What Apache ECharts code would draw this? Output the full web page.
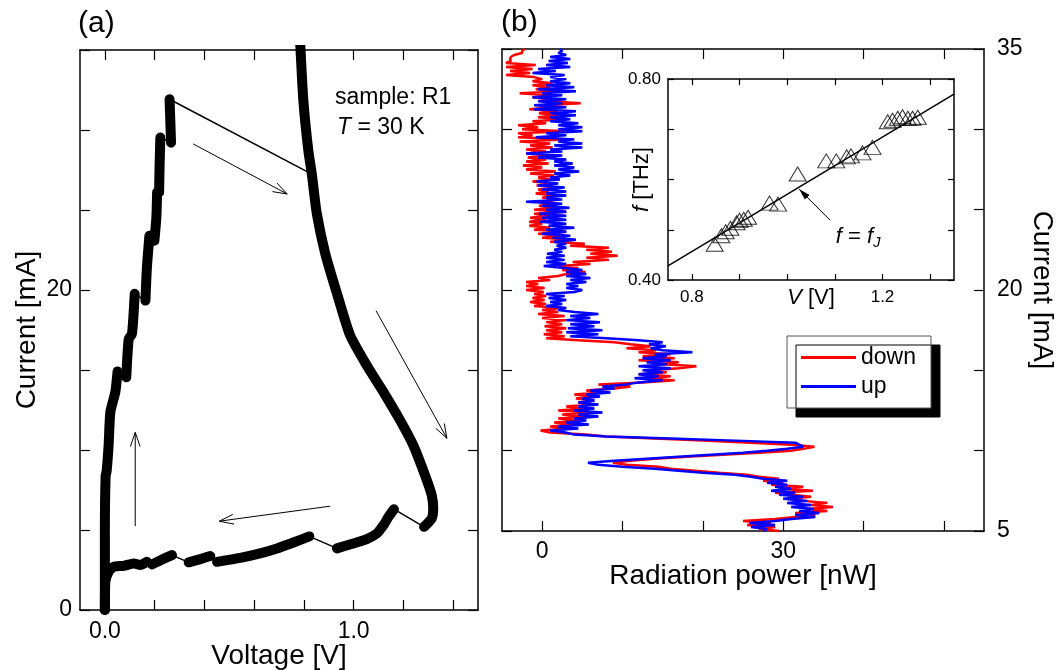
<!DOCTYPE html>
<html><head><meta charset="utf-8">
<script src="https://cdn.jsdelivr.net/npm/echarts@6/dist/echarts.min.js"></script>
<style>html,body{margin:0;padding:0;background:#fff}#c{width:1063px;height:670px}</style>
</head><body><div id="c"></div>
<script>
const FONT = '"Liberation Sans", Arial, Helvetica, sans-serif';

// ---------- Panel (a): I-V characteristic ----------
const aVoltTicks = [0, 0.2, 0.4, 0.6, 0.8, 1.0, 1.2, 1.4];
const aVoltLabels = [0, 1];
const aCurrTicks = [0, 5, 10, 15, 20, 25, 30, 35];
const aCurrLabels = [0, 20];

// thick measured branches [V, mA]
const bigBranch = [[0.785,35.5],[0.798,31.82],[0.818,28.70],[0.832,27.24],[0.852,24.77],[0.886,22.27],[0.933,19.78],[0.986,17.16],[1.053,15.28],[1.120,13.62],[1.187,11.85],[1.240,10.29],[1.287,8.42],[1.314,7.17],[1.320,6.34],[1.314,5.72],[1.283,5.20]];
const lowA = [[1.162,6.30],[1.140,5.82],[1.120,5.30],[1.093,4.78],[1.053,4.43],[0.999,4.16],[0.933,3.85]];
const lowB = [[0.822,4.60],[0.758,4.22],[0.692,3.85],[0.624,3.54],[0.544,3.26],[0.451,3.01]];
const lowC = [[0.424,3.37],[0.384,3.18],[0.337,2.98]];
const lowD = [[0.270,3.43],[0.230,3.16],[0.190,2.85]];
const lowE = [[0.169,3.01],[0.143,2.81],[0.116,2.91],[0.076,2.76],[0.035,2.70],[0.015,2.39],[0.002,1.77],[0.0,0.0]];
const step0 = [[0.0,0.0],[0.0,5.0],[0.003,8.4],[0.007,8.66],[0.015,10.29],[0.022,12.37],[0.042,13.62],[0.051,14.91]];
const step1 = [[0.086,14.55],[0.096,16.95],[0.109,17.26],[0.120,19.76]];
const step2 = [[0.163,19.34],[0.169,21.4],[0.179,23.39]];
const step3 = [[0.199,23.08],[0.207,24.53],[0.210,26.1]];
const step4 = [[0.218,26.1],[0.220,27.8],[0.223,29.53]];
const step5 = [[0.266,29.21],[0.263,30.6],[0.260,31.92]];
// thin connecting jumps
const jumps = [
  [[0.260,31.92],[0.832,27.24]],
  [[1.283,5.20],[1.162,6.30]],
  [[0.933,3.85],[0.822,4.60]],
  [[0.337,2.98],[0.270,3.43]],
  [[0.190,2.85],[0.169,3.01]],
  [[0.451,3.01],[0.424,3.37]],
  [[0.051,14.91],[0.086,14.55]],
  [[0.120,19.76],[0.163,19.34]],
  [[0.179,23.39],[0.199,23.08]],
  [[0.210,26.1],[0.218,26.1]],
  [[0.223,29.53],[0.266,29.21]]
];
// sweep direction arrows [V1, I1, V2, I2, filled]
const aArrows = [[0.355,29.13,0.733,26.0,0],[1.090,18.71,1.375,10.73,0],[0.906,6.49,0.460,5.55,0],[0.122,5.24,0.122,11.1,0]];

// ---------- Panel (b): radiation power vs current ----------
const bPowerTicks = [0, 10, 20, 30, 40, 50];
const bPowerLabels = [0, 30];
const bCurrTicks = [5, 10, 15, 20, 25, 30, 35];
const bCurrLabels = [5, 20, 35];
const currents = [
5,5.125,5.25,5.375,5.5,5.625,5.75,5.875, 6,6.125,6.25,6.375,6.5,6.625,6.75,6.875,
7,7.125,7.25,7.375,7.5,7.625,7.75,7.875, 8,8.125,8.25,8.375,8.5,8.625,8.75,8.875,
9,9.125,9.25,9.375,9.5,9.625,9.75,9.875, 10,10.125,10.25,10.375,10.5,10.625,10.75,10.875,
11,11.125,11.25,11.375,11.5,11.625,11.75,11.875, 12,12.125,12.25,12.375,12.5,12.625,12.75,12.875,
13,13.125,13.25,13.375,13.5,13.625,13.75,13.875, 14,14.125,14.25,14.375,14.5,14.625,14.75,14.875,
15,15.125,15.25,15.375,15.5,15.625,15.75,15.875, 16,16.125,16.25,16.375,16.5,16.625,16.75,16.875,
17,17.125,17.25,17.375,17.5,17.625,17.75,17.875, 18,18.125,18.25,18.375,18.5,18.625,18.75,18.875,
19,19.125,19.25,19.375,19.5,19.625,19.75,19.875, 20,20.125,20.25,20.375,20.5,20.625,20.75,20.875,
21,21.125,21.25,21.375,21.5,21.625,21.75,21.875, 22,22.125,22.25,22.375,22.5,22.625,22.75,22.875,
23,23.125,23.25,23.375,23.5,23.625,23.75,23.875, 24,24.125,24.25,24.375,24.5,24.625,24.75,24.875,
25,25.125,25.25,25.375,25.5,25.625,25.75,25.875, 26,26.125,26.25,26.375,26.5,26.625,26.75,26.875,
27,27.125,27.25,27.375,27.5,27.625,27.75,27.875, 28,28.125,28.25,28.375,28.5,28.625,28.75,28.875,
29,29.125,29.25,29.375,29.5,29.625,29.75,29.875, 30,30.125,30.25,30.375,30.5,30.625,30.75,30.875,
31,31.125,31.25,31.375,31.5,31.625,31.75,31.875, 32,32.125,32.25,32.375,32.5,32.625,32.75,32.875,
33,33.125,33.25,33.375,33.5,33.625,33.75,33.875, 34,34.125,34.25,34.375,34.5,34.625,34.75,34.875,
35];
const powerDown = [
29.5,27.0,29.0,25.5,28.5,25.0,29.0,31.5, 34.0,31.5,35.5,33.0,36.2,33.5,35.5,32.5,
30.5,33.5,31.0,29.0,33.7,30.0,32.5,28.5, 30.0,27.5,29.5,27.0,25.5,22.0,19.0,16.0,
14.5,10.5,8.8,11.0,14.0,18.0,22.5,27.0, 31.0,32.5,33.9,31.0,26.0,20.0,14.0,8.0,
5.5,1.0,-0.2,3.0,1.0,4.0,1.5,5.0, 2.0,5.5,2.5,6.0,2.0,5.0,3.0,6.0,
4.5,6.5,4.2,6.0,4.0,7.0,5.5,9.0, 11.0,7.0,12.5,16.5,13.0,16.0,12.0,15.5,
13.5,17.0,19.2,15.0,17.0,12.0,16.5,12.5, 16.0,12.0,14.2,10.5,13.5,11.0,9.0,4.5,
0.5,2.8,0.2,2.5,0.5,3.0,0.3,2.5, 0.5,3.0,0.0,2.8,-0.5,2.0,0.0,2.5,
-1.0,0.5,-1.5,0.3,-1.2,0.5,-1.0,0.2, -2.0,0.3,-2.0,-0.5,-2.0,1.0,-0.5,2.0,
3.0,5.4,2.5,4.5,2.0,6.0,3.8,8.3, 5.5,9.4,6.0,8.7,5.5,8.3,3.5,5.3,
1.0,4.0,0.0,2.5,-0.5,3.0,-1.0,1.0, -1.6,0.0,-1.6,0.5,-1.5,1.0,-1.0,3.0,
-1.0,1.5,-0.4,2.0,0.0,2.0,0.0,1.5, -0.8,0.8,-0.5,2.0,-0.7,1.2,-1.2,1.0,
-0.5,1.5,-1.5,1.7,-2.0,0.0,-2.4,0.8, -2.0,0.5,-1.8,0.8,-2.0,0.5,-2.0,1.3,
-1.5,1.0,-2.8,3.4,-3.0,-1.2,-3.0,2.8, -2.5,-0.5,-3.0,0.5,-1.2,3.0,-0.5,2.0,
-0.4,2.0,-1.6,1.3,0.0,4.8,0.5,0.8, -1.2,0.8,-2.8,3.0,-0.8,1.0,-1.2,1.3,
-1.2,0.0,-1.0,-4.5,-1.5,-4.0,-1.2,-4.5, -0.8,-4.5,-3.9,-4.0,-3.9,-3.5,-2.5,-2.5,
-2.2];
const powerUp = [
27.5,28.0,26.0,29.0,25.8,29.0,31.0,34.0, 31.5,34.5,32.0,33.8,31.0,33.5,30.5,33.0,
30.0,32.5,29.5,31.5,28.5,31.0,29.0,30.5, 28.0,30.5,27.5,26.0,24.0,20.0,17.0,14.0,
10.0,7.0,5.7,9.0,13.0,17.0,21.0,25.0, 28.0,30.5,32.5,32.0,31.5,24.0,16.0,8.0,
4.0,2.9,1.0,4.5,2.0,5.8,3.0,5.5, 4.0,7.0,4.5,7.5,4.0,6.5,4.5,7.0,
4.5,6.5,5.0,7.2,5.5,8.5,6.0,9.0, 7.5,10.5,12.0,15.0,11.5,14.5,12.0,15.0,
12.5,16.0,12.0,15.5,13.0,16.0,12.5,15.5, 14.0,18.7,15.0,13.5,15.4,13.3,15.0,12.0,
8.0,3.5,7.0,3.0,7.5,3.2,6.5,3.5, 7.2,3.0,6.0,3.5,7.0,4.0,2.0,3.0,
0.5,2.5,1.0,3.0,0.8,2.8,0.5,4.0, 5.0,3.0,4.5,3.0,5.5,3.5,6.0,3.0,
5.5,3.0,5.0,2.8,0.2,3.0,0.5,2.8, 0.5,2.8,0.6,2.5,1.5,3.0,1.8,3.0,
1.5,4.2,1.3,3.5,0.0,3.0,0.5,4.0, 0.8,3.0,-0.3,3.0,0.0,3.0,-0.4,3.0,
0.5,3.4,0.0,2.5,-2.0,2.5,0.5,3.0, 0.5,3.0,0.0,2.8,-0.5,2.0,-0.7,2.2,
1.0,3.5,1.5,4.6,2.0,4.0,1.5,3.8, 1.5,3.0,-0.5,2.5,-2.0,2.5,1.0,5.0,
1.5,5.0,2.0,4.0,-0.8,3.0,0.5,5.0, 2.0,5.0,2.0,4.5,1.0,3.5,1.0,4.2,
1.0,4.2,-1.0,3.0,-1.0,2.5,-0.5,3.0, -1.2,2.5,0.0,4.2,-0.5,4.0,0.5,3.5,
1.0,3.0,1.0,2.8,-1.2,1.7,-0.5,3.5, 0.5,3.2,0.8,3.5,1.0,3.0,2.0,2.5,
2.2];

// ---------- Inset: frequency vs voltage ----------
const insetVTicks = [0.8, 0.9, 1.0, 1.1, 1.2, 1.3];
const insetVLabels = [0.8, 1.2];
const insetFTicks = [0.4, 0.5, 0.6, 0.7, 0.8];
const insetFLabels = [0.4, 0.8];
const insetV = [0.848,0.862,0.871,0.881,0.894,0.900,0.909,0.918,0.963,0.981,1.022,1.082,1.103,1.125,1.134,1.158,1.179,1.211,1.221,1.232,1.242,1.253,1.263,1.274];
const insetF = [0.471,0.488,0.496,0.503,0.514,0.519,0.521,0.525,0.553,0.551,0.611,0.637,0.637,0.645,0.647,0.653,0.664,0.715,0.718,0.722,0.725,0.722,0.722,0.724];
const fjV = [0.75, 1.35];
const fjF = [0.428, 0.770];
const insetArrow = [[1.090,0.519,1.025,0.581,1]];
const insetText = [[1.149,0.486]];

// ---------- helpers ----------
function axis(grid, pos, min, max, ticks, labels, fmt, tickLen, labelSize, margin, extra) {
  return Object.assign({
    type: 'value', gridIndex: grid, position: pos, min: min, max: max,
    nameMoveOverlap: false,
    axisLine: {show: true, onZero: false, lineStyle: {color: '#000', width: 1.5}},
    axisTick: {show: true, inside: true, length: tickLen, customValues: ticks, lineStyle: {color: '#000', width: 1.2}},
    axisLabel: labels ? {show: true, customValues: labels, formatter: fmt, color: '#000', fontSize: labelSize, fontFamily: FONT, margin: margin} : {show: false},
    splitLine: {show: false}
  }, extra || {});
}
function renderArrow(params, api) {
  const p1 = api.coord([api.value(0), api.value(1)]);
  const p2 = api.coord([api.value(2), api.value(3)]);
  const filled = api.value(4) === 1;
  const ang = Math.atan2(p2[1] - p1[1], p2[0] - p1[0]);
  const L = filled ? 12 : 15, a = filled ? 0.28 : 0.33;
  const h1 = [p2[0] - L * Math.cos(ang - a), p2[1] - L * Math.sin(ang - a)];
  const h2 = [p2[0] - L * Math.cos(ang + a), p2[1] - L * Math.sin(ang + a)];
  return {type: 'group', children: [
    {type: 'line', shape: {x1: p1[0], y1: p1[1], x2: p2[0], y2: p2[1]}, style: {stroke: '#000', lineWidth: 1}},
    filled ? {type: 'polygon', shape: {points: [h1, p2, h2]}, style: {fill: '#000'}}
           : {type: 'polyline', shape: {points: [h1, p2, h2]}, style: {stroke: '#000', lineWidth: 1, fill: null}}
  ]};
}
const nameStyle = (size) => ({fontSize: size, fontFamily: FONT, color: '#000', rich: {i: {fontSize: size, fontFamily: FONT, fontStyle: 'italic', color: '#000'}}});

const thickSeries = [bigBranch, lowA, lowB, lowC, lowD, lowE, step0, step1, step2, step3, step4, step5].map(d => ({
  type: 'line', xAxisIndex: 0, yAxisIndex: 0, data: d, symbol: 'none', smooth: 0.2, silent: true,
  lineStyle: {color: '#000', width: 10, cap: 'round', join: 'round'}, z: 3
}));
const thinSeries = jumps.map(d => ({
  type: 'line', xAxisIndex: 0, yAxisIndex: 0, data: d, symbol: 'none', silent: true,
  lineStyle: {color: '#000', width: 1.5}, z: 2
}));

const chart = echarts.init(document.getElementById('c'), null, {renderer: 'canvas'});
chart.setOption({
  animation: false,
  backgroundColor: '#fff',
  textStyle: {fontFamily: FONT},
  grid: [
    {left: 80, top: 50, width: 398, height: 560, outerBoundsMode: 'none', containLabel: false},
    {left: 502, top: 49, width: 482, height: 482, outerBoundsMode: 'none', containLabel: false},
    {left: 668, top: 79, width: 286, height: 201, outerBoundsMode: 'none', containLabel: false}
  ],
  xAxis: [
    axis(0, 'bottom', -0.1, 1.5, aVoltTicks, aVoltLabels, v => v.toFixed(1), 10, 23, 10,
      {name: 'Voltage [V]', nameLocation: 'middle', nameGap: 32, nameTextStyle: nameStyle(28)}),
    axis(0, 'top', -0.1, 1.5, aVoltTicks, null, null, 10),
    axis(1, 'bottom', -5, 55, bPowerTicks, bPowerLabels, v => String(v), 10, 23, 9,
      {name: 'Radiation power [nW]', nameLocation: 'middle', nameGap: 31, nameTextStyle: nameStyle(28)}),
    axis(1, 'top', -5, 55, bPowerTicks, null, null, 10),
    axis(2, 'bottom', 0.75, 1.35, insetVTicks, insetVLabels, v => v.toFixed(1), 6, 17, 9,
      {name: '{i|V} [V]', nameLocation: 'middle', nameGap: 7, nameTextStyle: nameStyle(22)}),
    axis(2, 'top', 0.75, 1.35, insetVTicks, null, null, 6)
  ],
  yAxis: [
    axis(0, 'left', 0, 35, aCurrTicks, aCurrLabels, v => String(v), 10, 23, 8,
      {name: 'Current [mA]', nameLocation: 'middle', nameGap: 39, nameTextStyle: nameStyle(28)}),
    axis(0, 'right', 0, 35, aCurrTicks, null, null, 10),
    axis(1, 'right', 5, 35, bCurrTicks, bCurrLabels, v => String(v), 10, 23, 13,
      {name: 'Current [mA]', nameLocation: 'middle', nameRotate: -90, nameGap: 44, nameTextStyle: nameStyle(28)}),
    axis(1, 'left', 5, 35, bCurrTicks, null, null, 10),
    axis(2, 'left', 0.4, 0.8, insetFTicks, insetFLabels, v => v.toFixed(2), 6, 17, 7,
      {name: '{i|f} [THz]', nameLocation: 'middle', nameGap: 15, nameTextStyle: nameStyle(22)}),
    axis(2, 'right', 0.4, 0.8, insetFTicks, null, null, 6)
  ],
  legend: {
    data: ['down', 'up'], orient: 'vertical', left: 787, top: 336, selectedMode: false,
    icon: 'rect', itemWidth: 55, itemHeight: 3, itemGap: 6,
    padding: [10, 15, 10, 14],
    backgroundColor: '#fff', borderColor: '#555', borderWidth: 1, borderRadius: 0,
    shadowColor: '#000', shadowBlur: 0, shadowOffsetX: 9, shadowOffsetY: 9,
    textStyle: {fontSize: 23, lineHeight: 23, fontFamily: FONT, color: '#000'}
  },
  graphic: [
    {type: 'text', left: 78, top: 9, style: {text: '(a)', fontSize: 30, fontFamily: FONT, fill: '#000'}},
    {type: 'text', left: 501, top: 8, style: {text: '(b)', fontSize: 30, fontFamily: FONT, fill: '#000'}},
    {type: 'text', left: 335, top: 86, style: {text: 'sample: R1', fontSize: 23, fontFamily: FONT, fill: '#000'}},
    {type: 'text', left: 337, top: 116, style: {text: '{i|T} = 30 K', fontSize: 23, fontFamily: FONT, fill: '#000',
      rich: {i: {fontSize: 23, fontFamily: FONT, fontStyle: 'italic', fill: '#000'}}}}
  ],
  series: [].concat(thinSeries, thickSeries, [
    {type: 'custom', xAxisIndex: 0, yAxisIndex: 0, data: aArrows, renderItem: renderArrow, silent: true, encode: {x: [0, 2], y: [1, 3]}, z: 4},
    {name: 'down', type: 'line', xAxisIndex: 2, yAxisIndex: 2, symbol: 'none', color: '#ff0000',
      data: currents.map((c, i) => [powerDown[i], c]), lineStyle: {color: '#ff0000', width: 2.5}},
    {name: 'up', type: 'line', xAxisIndex: 2, yAxisIndex: 2, symbol: 'none', color: '#0000ff',
      data: currents.map((c, i) => [powerUp[i], c]), lineStyle: {color: '#0000ff', width: 2.5}},
    {type: 'line', xAxisIndex: 4, yAxisIndex: 4, symbol: 'none', silent: true,
      data: fjV.map((v, i) => [v, fjF[i]]), lineStyle: {color: '#000', width: 1.5}},
    {type: 'scatter', xAxisIndex: 4, yAxisIndex: 4, symbol: 'triangle', symbolSize: [17, 14], silent: true,
      data: insetV.map((v, i) => [v, insetF[i]]), itemStyle: {color: 'rgba(255,255,255,0)', borderColor: '#000', borderWidth: 1}},
    {type: 'custom', xAxisIndex: 4, yAxisIndex: 4, data: insetArrow, renderItem: renderArrow, silent: true, encode: {x: [0, 2], y: [1, 3]}},
    {type: 'custom', xAxisIndex: 4, yAxisIndex: 4, data: insetText, silent: true, encode: {x: 0, y: 1},
      renderItem: (params, api) => {
        const p = api.coord([api.value(0), api.value(1)]);
        return {type: 'text', x: p[0], y: p[1], style: {
          text: '{i|f} = {i|f}{s|J}', align: 'center', verticalAlign: 'middle', fill: '#000', fontSize: 22, fontFamily: FONT,
          rich: {i: {fontSize: 22, fontStyle: 'italic', fontFamily: FONT, fill: '#000'},
                 s: {fontSize: 15, fontStyle: 'italic', fontFamily: FONT, fill: '#000', padding: [12, 0, 0, 0]}}
        }};
      }}
  ])
});
</script></body></html>
